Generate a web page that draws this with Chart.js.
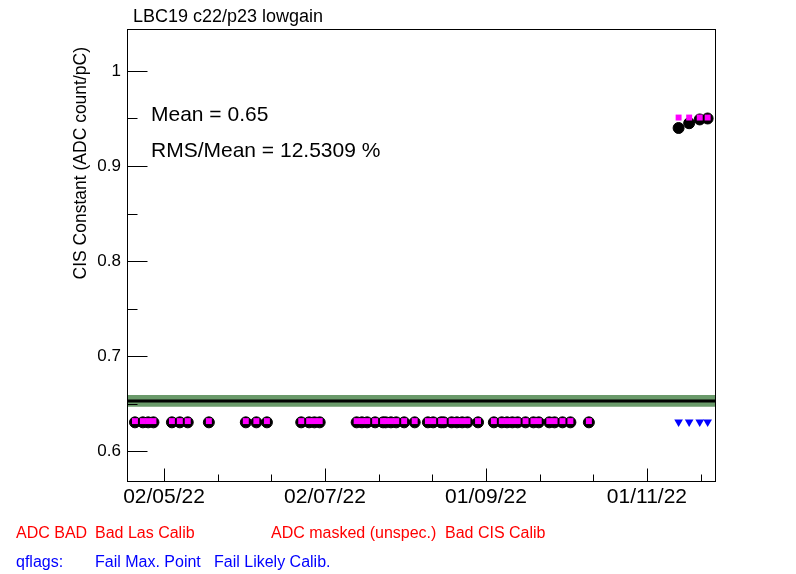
<!DOCTYPE html>
<html><head><meta charset="utf-8">
<script src="https://cdn.jsdelivr.net/npm/chart.js@4/dist/chart.umd.min.js"></script>
<style>html,body{margin:0;padding:0;background:#fff}#wrap{width:796px;height:574px}</style>
</head><body><div id="wrap"><canvas id="c" width="796" height="574"></canvas></div>
<script>
// ---- data ----
const dates = [
 '2022-04-21','2022-04-24','2022-04-26','2022-04-28',
 '2022-05-05','2022-05-08','2022-05-11',
 '2022-05-19',
 '2022-06-02','2022-06-06','2022-06-10',
 '2022-06-23','2022-06-26','2022-06-28','2022-06-30',
 '2022-07-14','2022-07-16','2022-07-18','2022-07-21','2022-07-24','2022-07-25','2022-07-27','2022-07-29','2022-08-01','2022-08-05',
 '2022-08-10','2022-08-12','2022-08-15','2022-08-16','2022-08-19','2022-08-21','2022-08-23','2022-08-25','2022-08-29',
 '2022-09-04','2022-09-07','2022-09-09','2022-09-11','2022-09-13','2022-09-16','2022-09-19','2022-09-21','2022-09-25','2022-09-27','2022-09-30','2022-10-03',
 '2022-10-10',
 '2022-11-13','2022-11-17','2022-11-21','2022-11-24'
];
const cisValues = [
 0.6302,0.6302,0.6302,0.6302,
 0.6302,0.6302,0.6302,
 0.6302,
 0.6302,0.6302,0.6302,
 0.6302,0.6302,0.6302,0.6302,
 0.6302,0.6302,0.6302,0.6302,0.6302,0.6302,0.6302,0.6302,0.6302,0.6302,
 0.6302,0.6302,0.6302,0.6302,0.6302,0.6302,0.6302,0.6302,0.6302,
 0.6302,0.6302,0.6302,0.6302,0.6302,0.6302,0.6302,0.6302,0.6302,0.6302,0.6302,0.6302,
 0.6302,
 0.940,0.945,0.949,0.950
];
const markValues = [
 0.6315,0.6315,0.6315,0.6315,
 0.6315,0.6315,0.6315,
 0.6315,
 0.6315,0.6315,0.6315,
 0.6315,0.6315,0.6315,0.6315,
 0.6315,0.6315,0.6315,0.6315,0.6315,0.6315,0.6315,0.6315,0.6315,0.6315,
 0.6315,0.6315,0.6315,0.6315,0.6315,0.6315,0.6315,0.6315,0.6315,
 0.6315,0.6315,0.6315,0.6315,0.6315,0.6315,0.6315,0.6315,0.6315,0.6315,0.6315,0.6315,
 0.6315,
 0.951,0.951,0.951,0.951
];
const flagDates = ['2022-11-13','2022-11-17','2022-11-21','2022-11-24'];
const flagValues = [0.6305,0.6305,0.6305,0.6305];
const meanValue = 0.6526;
const bandLow = 0.6466;
const bandHigh = 0.6589;
const yMajorTicks = [0.6,0.7,0.8,0.9,1.0];
const yMinorTicks = [0.65,0.75,0.85,0.95];
const xMajorTickDates = ['2022-05-02','2022-07-02','2022-09-01','2022-11-01'];
const xRangeDays = [107.98, 331.17];
const yRange = [0.5674, 1.0442];
const titleText = 'LBC19 c22/p23 lowgain';
const yTitle = 'CIS Constant (ADC count/pC)';
const statLines = ['Mean = 0.65','RMS/Mean = 12.5309 %'];
const redLegend = ['ADC BAD','Bad Las Calib','ADC masked (unspec.)','Bad CIS Calib'];
const blueLegend = ['qflags:','Fail Max. Point','Fail Likely Calib.'];

// ---- helpers ----
function dayOf(s){const p=s.split('-').map(Number);return (Date.UTC(p[0],p[1]-1,p[2])-Date.UTC(p[0],0,1))/864e5+1;}
function labelOf(day){const d=new Date(Date.UTC(2022,0,1)+(day-1)*864e5);
 const dd=String(d.getUTCDate()).padStart(2,'0'),mm=String(d.getUTCMonth()+1).padStart(2,'0'),yy=String(d.getUTCFullYear()%100).padStart(2,'0');return dd+'/'+mm+'/'+yy;}
const xMajor = xMajorTickDates.map(dayOf);
const step = (xMajor[1]-xMajor[0])/3;
const xMinor = [];
for(let v=xMajor[0]-step*3; v<=xRangeDays[1]; v+=step){ if(v>=xRangeDays[0] && !xMajor.some(m=>Math.abs(m-v)<1e-6)) xMinor.push(v); }

const FONT='"Liberation Sans", Arial, Helvetica, sans-serif';
const pts=(ds,vs)=>ds.map((d,i)=>({x:dayOf(d),y:vs[i]}));

const decor = {
 id:'decor',
 afterDraw(chart){
  const ctx=chart.ctx, ca=chart.chartArea, xs=chart.scales.x, ys=chart.scales.y;
  ctx.save();
  ctx.strokeStyle='#000'; ctx.lineWidth=1;
  const L=Math.round(ca.left)+0.5, R=Math.round(ca.right)-0.5, T=Math.round(ca.top)+0.5, B=Math.round(ca.bottom)-0.5;
  ctx.strokeRect(L,T,R-L,B-T);
  ctx.beginPath();
  yMajorTicks.forEach(v=>{const y=Math.round(ys.getPixelForValue(v))+0.5;ctx.moveTo(L,y);ctx.lineTo(L+20,y);});
  yMinorTicks.forEach(v=>{const y=Math.round(ys.getPixelForValue(v))+0.5;ctx.moveTo(L,y);ctx.lineTo(L+10,y);});
  xMajor.forEach(v=>{const x=Math.round(xs.getPixelForValue(v))+0.5;ctx.moveTo(x,B);ctx.lineTo(x,B-13);});
  xMinor.forEach(v=>{const x=Math.round(xs.getPixelForValue(v))+0.5;ctx.moveTo(x,B);ctx.lineTo(x,B-7);});
  ctx.stroke();
  ctx.fillStyle='#000'; ctx.textBaseline='middle'; ctx.textAlign='left';
  ctx.font='18px '+FONT; ctx.fillText(titleText,133,17);
  ctx.font='21px '+FONT; ctx.fillText(statLines[0],151,115); ctx.fillText(statLines[1],151,151);
  ctx.save(); ctx.translate(81,47); ctx.rotate(-Math.PI/2); ctx.textAlign='right'; ctx.font='17.5px '+FONT; ctx.fillText(yTitle,0,0); ctx.restore();
  ctx.font='16px '+FONT;
  ctx.fillStyle='#ff0000';
  [16,95,271,445].forEach((x,i)=>ctx.fillText(redLegend[i],x,534));
  ctx.fillStyle='#0000ff';
  [16,95,214].forEach((x,i)=>ctx.fillText(blueLegend[i],x,563));
  ctx.restore();
 }
};

new Chart(document.getElementById('c'),{
 type:'scatter',
 data:{datasets:[
  {label:'flags',data:pts(flagDates,flagValues),pointStyle:'triangle',rotation:180,radius:5,backgroundColor:'#0000ff',borderColor:'#0000ff',borderWidth:0},
  {label:'mark',data:pts(dates,markValues),pointStyle:'rect',radius:4.2,backgroundColor:'#ff00ff',borderColor:'#ff00ff',borderWidth:0},
  {label:'cis',data:pts(dates,cisValues),pointStyle:'circle',radius:5.5,backgroundColor:'#000',borderColor:'#000',borderWidth:1},
  {label:'mean',type:'line',data:[{x:xRangeDays[0],y:meanValue},{x:xRangeDays[1],y:meanValue}],borderColor:'#000',borderWidth:3,pointRadius:0,fill:false},
  {label:'bandHigh',type:'line',data:[{x:xRangeDays[0],y:bandHigh},{x:xRangeDays[1],y:bandHigh}],borderWidth:0,borderColor:'rgba(0,0,0,0)',pointRadius:0,fill:'+1',backgroundColor:'#6a9a6a'},
  {label:'bandLow',type:'line',data:[{x:xRangeDays[0],y:bandLow},{x:xRangeDays[1],y:bandLow}],borderWidth:0,borderColor:'rgba(0,0,0,0)',pointRadius:0,fill:false}
 ]},
 options:{
  responsive:false, animation:false, devicePixelRatio:1,
  layout:{padding:{top:29,right:80,left:0,bottom:0}},
  plugins:{legend:{display:false},tooltip:{enabled:false},title:{display:false}},
  scales:{
   x:{type:'linear',min:xRangeDays[0],max:xRangeDays[1],
      grid:{display:false,drawTicks:false},border:{display:false},
      afterBuildTicks:s=>{s.ticks=xMajor.map(v=>({value:v}));},
      afterFit:s=>{s.height=574-482;},
      ticks:{autoSkip:false,maxRotation:0,padding:3,color:'#000',font:{family:FONT,size:21},callback:v=>labelOf(v)}},
   y:{type:'linear',min:yRange[0],max:yRange[1],
      grid:{display:false,drawTicks:false},border:{display:false},
      afterBuildTicks:s=>{s.ticks=yMajorTicks.map(v=>({value:v}));},
      afterFit:s=>{s.width=127;},
      ticks:{padding:6,color:'#000',font:{family:FONT,size:17},callback:v=>Math.abs(v-1)<1e-9?'1':v.toFixed(1)}}
  }
 },
 plugins:[decor]
});
</script></body></html>
